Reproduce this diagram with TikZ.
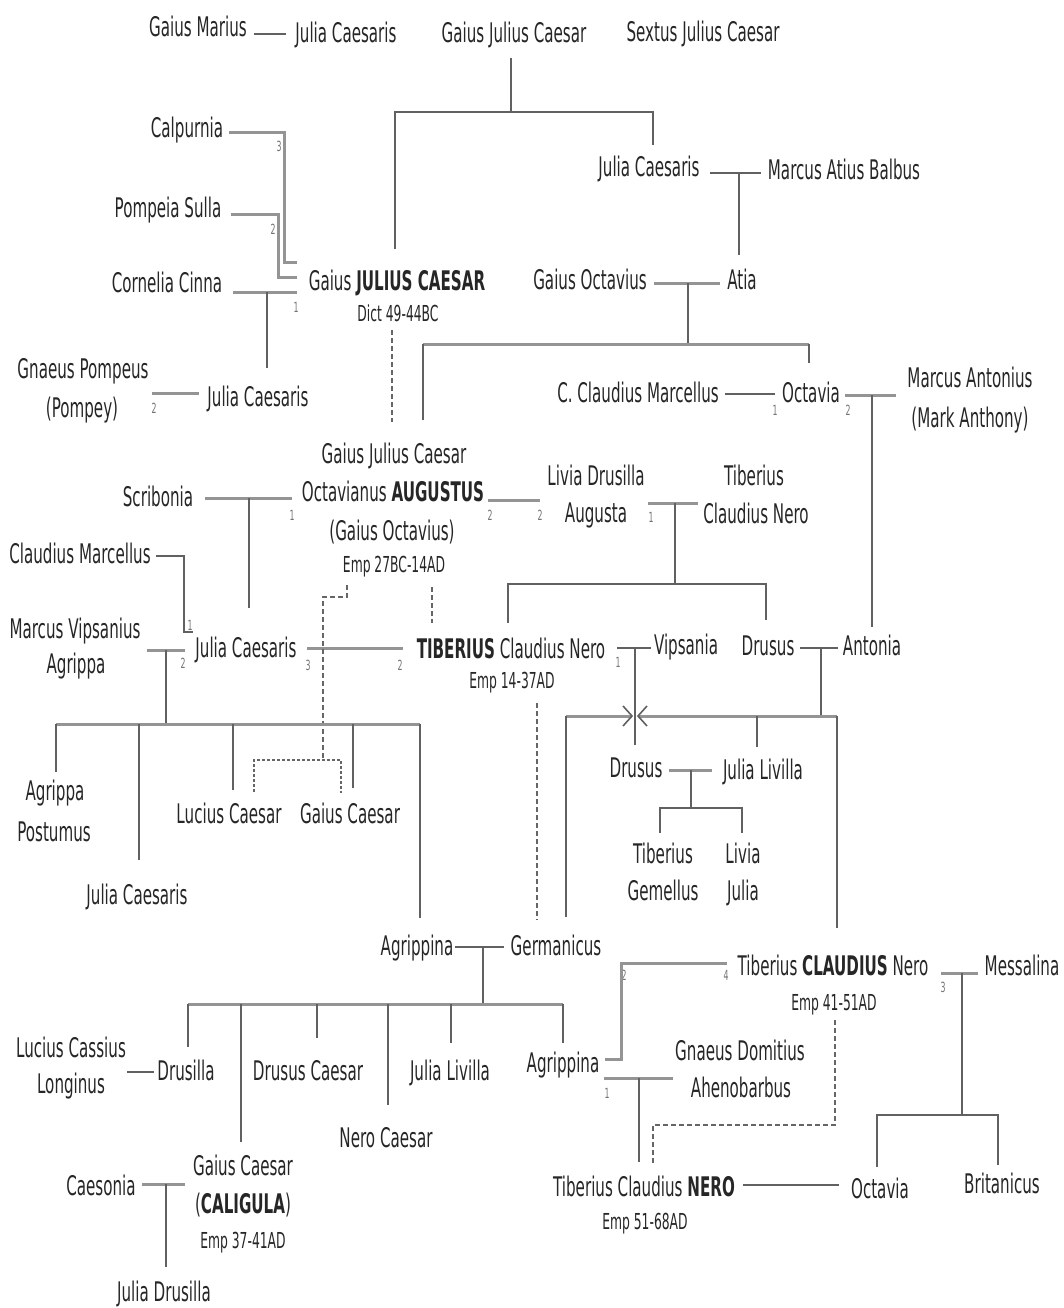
\documentclass[tikz,border=0pt]{standalone}
\usepackage{fontspec}
\setmainfont[FakeStretch=0.56]{DejaVu Sans}
\begin{document}
\begin{tikzpicture}[x=1pt,y=-1pt,
  every node/.style={inner sep=0pt, anchor=base, text=black!85},
  nm/.style={font=\fontsize{27}{32}\selectfont},
  sm/.style={font=\fontsize{22}{26}\selectfont},
  num/.style={font=\fontsize{14}{16}\selectfont, text=black!55, anchor=center},
  tl/.style={line width=1.6pt, draw=black!62},
  ml/.style={line width=3pt, draw=black!42},
  dl/.style={line width=1.2pt, draw=black!60, dash pattern=on 5pt off 3pt},
  dd/.style={line width=1.2pt, draw=black!60, dash pattern=on 3pt off 2pt}]
\useasboundingbox (0,0) rectangle (1063,1308);
% ---- names ----
\node[nm] (gm) at (198,37) {Gaius Marius};
\node[nm] (jc1) at (346,43) {Julia Caesaris};
\node[nm] (gjc) at (514,43) {Gaius Julius Caesar};
\node[nm] (sjc) at (703,42) {Sextus Julius Caesar};
\node[nm] (calp) at (187,138) {Calpurnia};
\node[nm] (pomp) at (168,217) {Pompeia Sulla};
\node[nm] (corn) at (167,292) {Cornelia Cinna};
\node[nm] (jcs) at (397,290) {Gaius \textbf{JULIUS CAESAR}};
\node[sm] (jcs2) at (398,321) {Dict 49-44BC};
\node[nm] (jc2) at (649,177) {Julia Caesaris};
\node[nm] (mab) at (844,180) {Marcus Atius Balbus};
\node[nm] (go) at (590,289) {Gaius Octavius};
\node[nm] (atia) at (742,289) {Atia};
\node[nm] (gp1) at (83,378) {Gnaeus Pompeus};
\node[nm] (gp2) at (82,417) {(Pompey)};
\node[nm] (jc3) at (258,406) {Julia Caesaris};
\node[nm] (aug1) at (394,463) {Gaius Julius Caesar};
\node[nm] (aug2) at (393,501) {Octavianus \textbf{AUGUSTUS}};
\node[nm] (aug3) at (392,540) {(Gaius Octavius)};
\node[sm] (aug4) at (394,572) {Emp 27BC-14AD};
\node[nm] (scrib) at (158,506) {Scribonia};
\node[nm] (cm) at (80,563) {Claudius Marcellus};
\node[nm] (mva1) at (75,638) {Marcus Vipsanius};
\node[nm] (mva2) at (76,673) {Agrippa};
\node[nm] (jc4) at (246,657) {Julia Caesaris};
\node[nm] (tib1) at (511,658) {\textbf{TIBERIUS} Claudius Nero};
\node[sm] (tib2) at (512,688) {Emp 14-37AD};
\node[nm] (ccm) at (638,402) {C. Claudius Marcellus};
\node[nm] (oct) at (811,402) {Octavia};
\node[nm] (ma1) at (970,387) {Marcus Antonius};
\node[nm] (ma2) at (970,427) {(Mark Anthony)};
\node[nm] (liv1) at (596,485) {Livia Drusilla};
\node[nm] (liv2) at (596,522) {Augusta};
\node[nm] (tcn1) at (754,485) {Tiberius};
\node[nm] (tcn2) at (756,523) {Claudius Nero};
\node[nm] (vips) at (686,654) {Vipsania};
\node[nm] (dru1) at (768,655) {Drusus};
\node[nm] (anto) at (872,655) {Antonia};
\node[nm] (ap1) at (55,800) {Agrippa};
\node[nm] (ap2) at (54,841) {Postumus};
\node[nm] (jc5) at (137,904) {Julia Caesaris};
\node[nm] (lc) at (229,823) {Lucius Caesar};
\node[nm] (gc) at (350,823) {Gaius Caesar};
\node[nm] (agr1) at (417,955) {Agrippina};
\node[nm] (germ) at (556,955) {Germanicus};
\node[nm] (dru2) at (636,777) {Drusus};
\node[nm] (jl1) at (763,779) {Julia Livilla};
\node[nm] (tg1) at (663,863) {Tiberius};
\node[nm] (tg2) at (663,900) {Gemellus};
\node[nm] (lj1) at (743,863) {Livia};
\node[nm] (lj2) at (743,900) {Julia};
\node[nm] (cla1) at (833,975) {Tiberius \textbf{CLAUDIUS} Nero};
\node[sm] (cla2) at (834,1010) {Emp 41-51AD};
\node[nm] (mess) at (1022,975) {Messalina};
\node[nm] (lcl1) at (71,1057) {Lucius Cassius};
\node[nm] (lcl2) at (71,1093) {Longinus};
\node[nm] (drsl) at (186,1080) {Drusilla};
\node[nm] (dc) at (308,1080) {Drusus Caesar};
\node[nm] (jl2) at (450,1080) {Julia Livilla};
\node[nm] (agr2) at (563,1072) {Agrippina};
\node[nm] (gd1) at (740,1060) {Gnaeus Domitius};
\node[nm] (gd2) at (741,1097) {Ahenobarbus};
\node[nm] (nc) at (386,1147) {Nero Caesar};
\node[nm] (ces) at (101,1195) {Caesonia};
\node[nm] (cal1) at (243,1175) {Gaius Caesar};
\node[nm] (cal2) at (243,1213) {(\textbf{CALIGULA})};
\node[sm] (cal3) at (243,1248) {Emp 37-41AD};
\node[nm] (jd) at (164,1301) {Julia Drusilla};
\node[nm] (nero1) at (644,1196) {Tiberius Claudius \textbf{NERO}};
\node[sm] (nero2) at (645,1229) {Emp 51-68AD};
\node[nm] (octa2) at (880,1198) {Octavia};
\node[nm] (brit) at (1002,1193) {Britanicus};
% ---- marriage numbers ----
\node[num] (k1) at (279,146) {3};
\node[num] (k2) at (273,229) {2};
\node[num] (k3) at (296,307) {1};
\node[num] (k4) at (154,408) {2};
\node[num] (k5) at (775,410) {1};
\node[num] (k6) at (848,410) {2};
\node[num] (k7) at (292,515) {1};
\node[num] (k8) at (490,515) {2};
\node[num] (k9) at (540,515) {2};
\node[num] (k10) at (651,517) {1};
\node[num] (k11) at (190,625) {1};
\node[num] (k12) at (183,663) {2};
\node[num] (k13) at (308,665) {3};
\node[num] (k14) at (400,665) {2};
\node[num] (k15) at (618,662) {1};
\node[num] (k16) at (624,975) {2};
\node[num] (k17) at (726,975) {4};
\node[num] (k18) at (943,987) {3};
\node[num] (k19) at (607,1093) {1};
% ---- connectors ----
\draw[tl] (254,34) -- (286,34);
\draw[tl] (511,58) -- (511,112);
\draw[tl] (395,249) -- (395,112) -- (653,112) -- (653,145);
\draw[ml] (229,133) -- (284,133) -- (284,262) -- (297,262);
\draw[ml] (231,214) -- (278,214) -- (278,277) -- (297,277);
\draw[ml] (233,292) -- (297,292);
\draw[tl] (267,292) -- (267,368);
\draw[ml] (152,393) -- (199,393);
\draw[tl] (710,173) -- (761,173);
\draw[tl] (739,173) -- (739,255);
\draw[ml] (654,283) -- (720,283);
\draw[tl] (688,283) -- (688,344);
\draw[ml] (423,344) -- (809,344);
\draw[tl] (423,344) -- (423,420);
\draw[tl] (809,344) -- (809,363);
\draw[dl] (392,330) -- (392,422);
\draw[tl] (725,394) -- (775,394);
\draw[ml] (845,395) -- (896,395);
\draw[tl] (872,395) -- (872,627);
\draw[ml] (205,498) -- (292,498);
\draw[tl] (249,498) -- (249,608);
\draw[ml] (488,500) -- (540,500);
\draw[ml] (648,503) -- (698,503);
\draw[tl] (675,503) -- (675,584);
\draw[tl] (508,623) -- (508,584) -- (766,584) -- (766,620);
\draw[tl] (156,556) -- (184,556) -- (184,632) -- (193,632);
\draw[ml] (147,650) -- (185,650);
\draw[tl] (166,650) -- (166,724);
\draw[ml] (307,648) -- (403,648);
\draw[dl] (347,585) -- (347,597) -- (323,597) -- (323,760);
\draw[dd] (254,792) -- (254,760) -- (341,760) -- (341,793);
\draw[dl] (432,587) -- (432,623);
\draw[ml] (56,724) -- (420,724);
\draw[tl] (56,724) -- (56,772);
\draw[tl] (139,724) -- (139,860);
\draw[tl] (233,724) -- (233,790);
\draw[tl] (353,724) -- (353,788);
\draw[tl] (420,724) -- (420,918);
\draw[tl] (617,648) -- (651,648);
\draw[tl] (635,648) -- (635,745);
\draw[tl] (800,648) -- (838,648);
\draw[tl] (821,648) -- (821,716);
\draw[ml] (566,716) -- (632,716);
\draw[ml] (638,716) -- (837,716);
\draw[tl] (623,706) -- (632,716) -- (623,726);
\draw[tl] (647,706) -- (638,716) -- (647,726);
\draw[tl] (566,716) -- (566,917);
\draw[tl] (837,716) -- (837,928);
\draw[tl] (757,716) -- (757,747);
\draw[dl] (537,703) -- (537,920);
\draw[ml] (669,770) -- (712,770);
\draw[tl] (691,770) -- (691,808);
\draw[tl] (660,833) -- (660,808) -- (742,808) -- (742,833);
\draw[tl] (455,947) -- (504,947);
\draw[tl] (483,947) -- (483,1004);
\draw[ml] (188,1004) -- (563,1004);
\draw[tl] (188,1004) -- (188,1047);
\draw[tl] (241,1004) -- (241,1142);
\draw[tl] (317,1004) -- (317,1038);
\draw[tl] (388,1004) -- (388,1105);
\draw[tl] (451,1004) -- (451,1043);
\draw[tl] (563,1004) -- (563,1043);
\draw[tl] (127,1072) -- (154,1072);
\draw[ml] (727,963) -- (621,963) -- (621,1059) -- (605,1059);
\draw[ml] (941,973) -- (978,973);
\draw[tl] (962,973) -- (962,1115);
\draw[tl] (877,1167) -- (877,1115) -- (998,1115) -- (998,1165);
\draw[ml] (604,1078) -- (673,1078);
\draw[tl] (639,1078) -- (639,1162);
\draw[dl] (835,1020) -- (835,1125) -- (653,1125) -- (653,1163);
\draw[tl] (743,1185) -- (839,1185);
\draw[ml] (142,1184) -- (185,1184);
\draw[tl] (166,1184) -- (166,1267);
\end{tikzpicture}
\end{document}
